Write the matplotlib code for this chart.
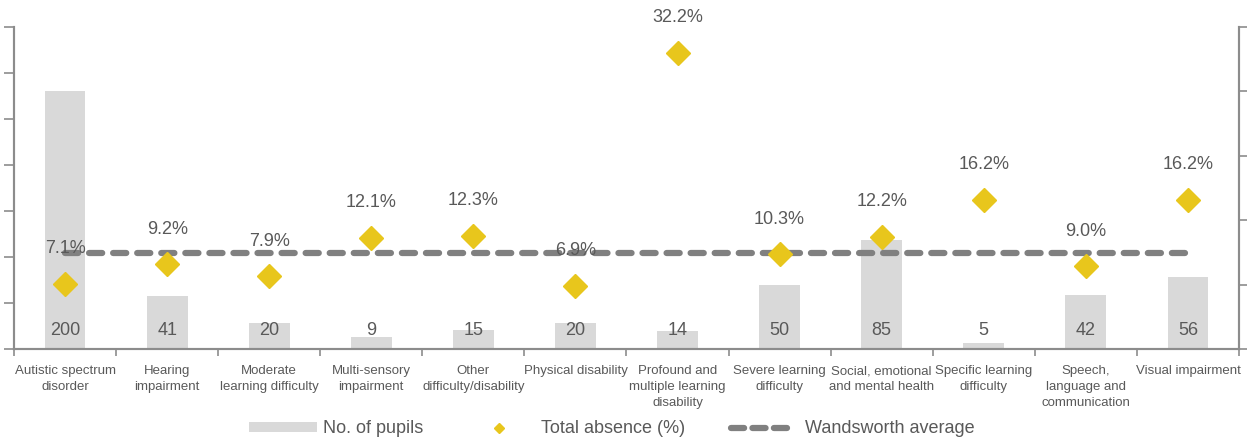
import matplotlib
matplotlib.use("Agg")
import matplotlib.pyplot as plt
from matplotlib import font_manager
from matplotlib.patches import Rectangle
from matplotlib.lines import Line2D
import matplotlib.transforms as mtransforms

categories = ["Autistic spectrum\ndisorder", "Hearing\nimpairment", "Moderate\nlearning difficulty",
              "Multi-sensory\nimpairment", "Other\ndifficulty/disability", "Physical disability",
              "Profound and\nmultiple learning\ndisability", "Severe learning\ndifficulty",
              "Social, emotional\nand mental health", "Specific learning\ndifficulty",
              "Speech,\nlanguage and\ncommunication", "Visual impairment"]
pupils = [200, 41, 20, 9, 15, 20, 14, 50, 85, 5, 42, 56]
absence = [7.1, 9.2, 7.9, 12.1, 12.3, 6.9, 32.2, 10.3, 12.2, 16.2, 9.0, 16.2]
wandsworth_avg = 10.4
legend_labels = ["No. of pupils", "Total absence (%)", "Wandsworth average"]

names = {f.name for f in font_manager.fontManager.ttflist}
narrow = "Liberation Sans Narrow" if "Liberation Sans Narrow" in names else "Liberation Sans"
regular = "Liberation Sans"

BAR = "#D9D9D9"
YEL = "#E8C61C"
TXT = "#595959"
AX = "#8C8C8C"
DASH = "#808080"
LW = 4.5
DASHES = (2.1, 1.75)

W, H = 1247, 439
fig = plt.figure(figsize=(W / 100, H / 100), dpi=100)
ax = fig.add_axes([14 / W, 1 - 350 / H, (1239 - 14) / W, (350 - 28) / H])
ax2 = ax.twinx()

x = list(range(len(categories)))
ax.bar(x, pupils, width=0.4, color=BAR, zorder=1)
ax.set_ylim(0, 250)
ax.set_xlim(-0.5, len(categories) - 0.5)
ax.set_yticks([250 * i / 7 for i in range(8)])
ax.set_yticklabels([])

for xi, v in zip(x, pupils):
    ax.text(xi, 0.062, str(v), transform=mtransforms.blended_transform_factory(ax.transData, ax.transAxes),
            ha="center", va="center", fontsize=13, color=TXT, family=regular, zorder=5)

ax2.set_ylim(0, 35)
ax2.set_yticks([0, 7, 14, 21, 28, 35])
ax2.set_yticklabels([])
ax2.plot([x[0], x[-1]], [wandsworth_avg, wandsworth_avg], color=DASH, lw=LW,
         dashes=DASHES, dash_capstyle="round", zorder=2)
ax2.plot(x, absence, linestyle="none", marker="D", markersize=12.5, color=YEL, zorder=3)
for xi, v in zip(x, absence):
    ax2.annotate(f"{v:.1f}%", (xi, v), xytext=(0, 26), textcoords="offset points",
                 ha="center", va="center", fontsize=13, color=TXT, family=regular, zorder=5)

ax.set_xticks([i - 0.5 for i in range(len(categories) + 1)], minor=False)
ax.set_xticklabels([])
ax.set_xticks(x, minor=True)
ax.set_xticklabels(categories, minor=True, fontsize=9.5, color=TXT, family=narrow, linespacing=1.45)
ax.tick_params(axis="x", which="minor", length=0, pad=11)
ax.tick_params(axis="x", which="major", length=5, width=1.2, color=AX, direction="out")
ax.tick_params(axis="y", length=7, width=1.2, color=AX, direction="out")
ax2.tick_params(axis="y", length=7, width=1.2, color=AX, direction="out")

for a in (ax, ax2):
    a.spines["top"].set_visible(False)
    for s in ("left", "right", "bottom"):
        a.spines[s].set_color(AX)
        a.spines[s].set_linewidth(1.5)

# legend (figure pixel coords)
def fy(py):
    return 1 - py / H

fig.add_artist(Rectangle((249 / W, fy(433)), 68 / W, 10 / H, transform=fig.transFigure,
                         color=BAR, lw=0))
fig.text(323 / W, fy(429), legend_labels[0], fontsize=13, color=TXT, family=narrow, va="center")
fig.add_artist(Line2D([499 / W], [fy(429)], transform=fig.transFigure, marker="D",
                      markersize=5, color=YEL, linestyle="none"))
fig.text(541 / W, fy(429), legend_labels[1], fontsize=13, color=TXT, family=narrow, va="center")
fig.add_artist(Line2D([731 / W, 787 / W], [fy(429), fy(429)], transform=fig.transFigure,
                      color=DASH, lw=LW, dashes=(2.1, 1.33), dash_capstyle="round"))
fig.text(805 / W, fy(429), legend_labels[2], fontsize=13, color=TXT, family=narrow, va="center")

fig.savefig("out.png", dpi=100)
